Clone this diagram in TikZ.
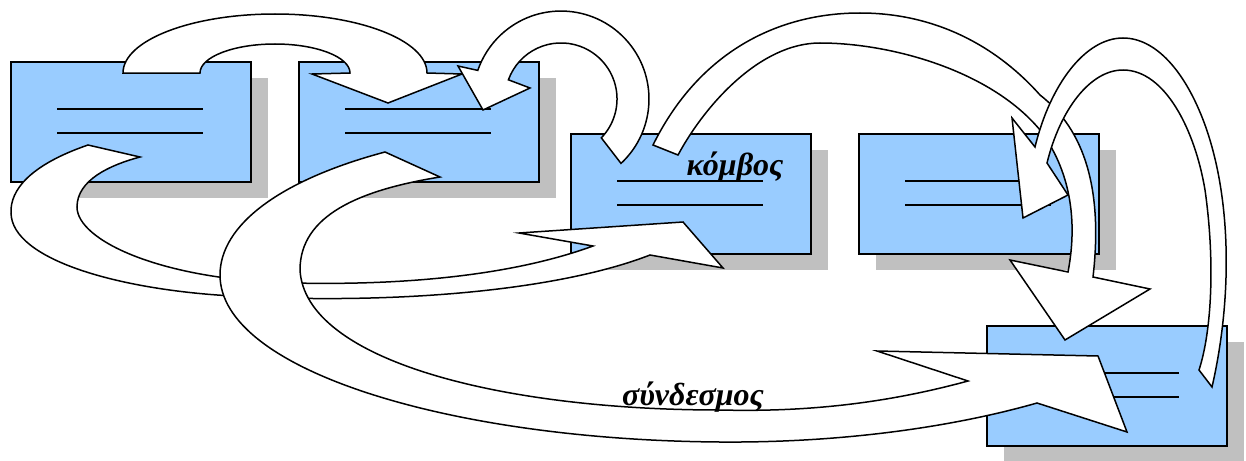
\documentclass[tikz,border=0pt]{standalone}
\usepackage{fontspec}
\setmainfont{Liberation Serif}
\usetikzlibrary{shadows}
\definecolor{boxblue}{HTML}{99CCFF}
\definecolor{shadowgray}{HTML}{C0C0C0}
\tikzset{
  box/.style={draw=black, fill=boxblue, line width=2pt, minimum width=240pt, minimum height=120pt, inner sep=0pt,
    general shadow={fill=shadowgray, shadow xshift=17pt, shadow yshift=-16pt}},
  txtline/.style={draw=black, line width=2pt},
  blk/.style={draw=black, fill=white, line width=1.5pt, line join=miter},
  lbl/.style={font=\fontsize{32}{34}\selectfont\bfseries\itshape, inner sep=0pt, anchor=base}
}
\begin{document}
\begin{tikzpicture}[x=1pt, y=-1pt]
\useasboundingbox (0,0) rectangle (1246,460);
% boxes
\node[box] (b1) at (131,122) {};
\node[box] (b2) at (419,122) {};
\node[box] (b3) at (691,194) {};
\node[box] (b4) at (979,194) {};
\node[box] (b5) at (1107,386) {};
% text lines in boxes
\foreach \b in {b1,b2,b3,b4,b5}{
  \draw[txtline] ([xshift=47pt,yshift=-48pt]\b.north west) -- ++(146,0);
  \draw[txtline] ([xshift=47pt,yshift=-72pt]\b.north west) -- ++(146,0);
}
% A1: box1 -> box2
\draw[blk] (123,73) arc[start angle=180, end angle=0, x radius=152pt, y radius=59pt]
  -- (462,74) -- (388,103) -- (312,74) -- (350,73)
  arc[start angle=0, end angle=180, x radius=75pt, y radius=29pt] -- cycle;
% A2: box3 -> box2
\draw[blk] (621,163.4) arc[start angle=-47, end angle=161, radius=88pt]
  -- (458,66) -- (483,110) -- (530,88) -- (508.4,79.8)
  arc[start angle=160, end angle=-44, radius=56pt] -- cycle;
% A5: box1 -> box3
\draw[blk] (88,145) .. controls (30,165) and (10,190) .. (11,213)
  .. controls (12,260) and (120,290) .. (233,296)
  .. controls (400,305) and (560,290) .. (650,255)
  -- (723,268) -- (683,222) -- (519,233) -- (593,246)
  .. controls (500,280) and (380,285) .. (293,283)
  .. controls (160,280) and (77,240) .. (77,207)
  .. controls (77,180) and (110,165) .. (140,157) -- cycle;
% A6: box2 -> box5
\draw[blk] (385,152) .. controls (280,180) and (220,225) .. (220,275)
  .. controls (220,370) and (450,440) .. (720,442)
  .. controls (850,443) and (960,425) .. (1037,403)
  -- (1127,432) -- (1098,356) -- (877,351) -- (968,381)
  .. controls (880,405) and (800,412) .. (720,410)
  .. controls (500,410) and (305,360) .. (300,270)
  .. controls (300,215) and (360,190) .. (440,177) -- cycle;
% A3: box3 -> box5
\draw[blk] (653,145) .. controls (700,50) and (780,13) .. (860,13)
  .. controls (940,13) and (1000,50) .. (1040,95)
  .. controls (1085,130) and (1103,190) .. (1093,277)
  -- (1150,289) -- (1065,340) -- (1010,260) -- (1068,272)
  .. controls (1078,220) and (1070,170) .. (1040,130)
  .. controls (990,70) and (890,43) .. (820,43)
  .. controls (760,43) and (705,105) .. (678,155) -- cycle;
% A4: box5 -> box4
\draw[blk] (1212,387) .. controls (1232,300) and (1232,200) .. (1205,125)
  .. controls (1185,70) and (1155,38) .. (1123,38)
  .. controls (1085,38) and (1050,85) .. (1035,147)
  -- (1012,118) -- (1023,218) -- (1068,195) -- (1047,163)
  .. controls (1060,110) and (1090,70) .. (1123,70)
  .. controls (1165,70) and (1195,130) .. (1205,190)
  .. controls (1215,260) and (1212,330) .. (1199,370) -- cycle;
% labels
\node[lbl] (k) at (735,175) {κόμβος};
\node[lbl] (s) at (693,405) {σύνδεσμος};
\end{tikzpicture}
\end{document}
